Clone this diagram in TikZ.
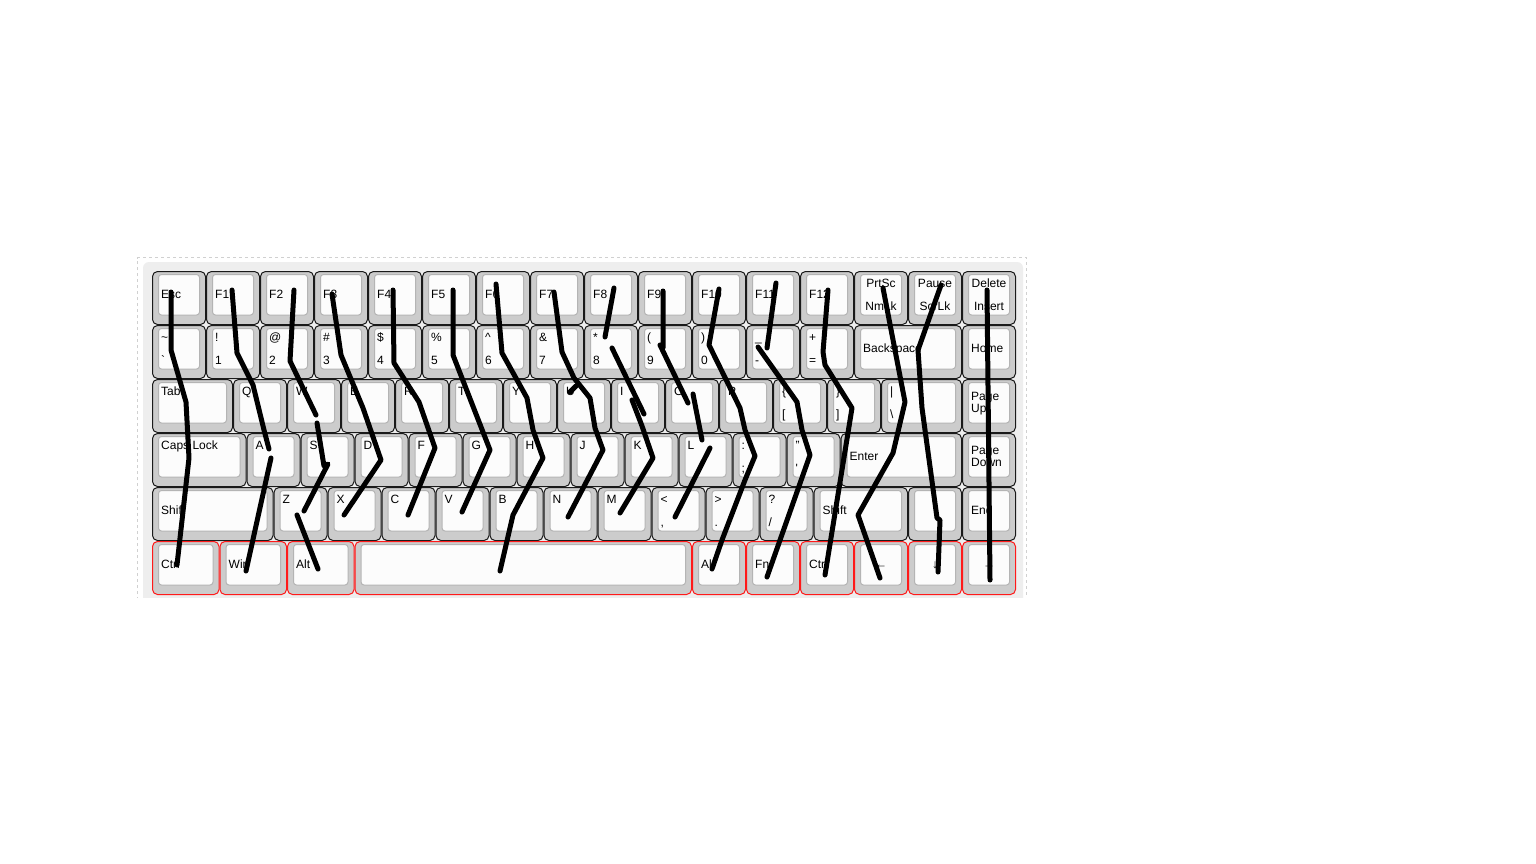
\documentclass[tikz,border=0pt]{standalone}
\usepackage{fontspec}
\setmainfont{Liberation Sans}
\definecolor{panelgray}{HTML}{EEEEEE}
\definecolor{dashgray}{HTML}{D0D0D0}
\definecolor{keygray}{HTML}{CCCCCC}
\definecolor{keywhite}{HTML}{FCFCFC}
\definecolor{inborder}{HTML}{B4B4B4}
\definecolor{keyborder}{HTML}{1A1A1A}
\definecolor{redborder}{HTML}{FF1A1A}
\newcounter{kl}
\newcommand\kbk[4][keyborder]{%
  \path[keyout,draw=#1] (#2+0.5,#3+0.5) rectangle (#2+#4-0.5,#3+53.5);
  \path[keyin] (#2+6.5,#3+3.5) rectangle (#2+#4-6.5,#3+44);}
\newcommand\ltop[3]{\stepcounter{kl}\node[lbl] (kl\arabic{kl}) at (#1+9,#2+16) {#3};}
\newcommand\lbot[3]{\stepcounter{kl}\node[lbl] (kl\arabic{kl}) at (#1+9,#2+39.5) {#3};}
\newcommand\lmid[3]{\stepcounter{kl}\node[lbl] (kl\arabic{kl}) at (#1+9,#2+27.5) {#3};}
\newcommand\ctop[3]{\stepcounter{kl}\node[lblc] (kl\arabic{kl}) at (#1,#2+16) {#3};}
\newcommand\cbot[3]{\stepcounter{kl}\node[lblc] (kl\arabic{kl}) at (#1,#2+39.5) {#3};}
\newcommand\cmid[3]{\stepcounter{kl}\node[lblc] (kl\arabic{kl}) at (#1,#2+27.5) {#3};}
\newcommand\ltwo[4]{\stepcounter{kl}\node[lbl] (kl\arabic{kl}) at (#1+9,#2+21.5) {#3};
  \stepcounter{kl}\node[lbl] (kl\arabic{kl}) at (#1+9,#2+33.5) {#4};}
\begin{document}
\begin{tikzpicture}[x=1pt,y=-1pt,
  keyout/.style={fill=keygray,line width=1pt,rounded corners=5pt},
  keyin/.style={fill=keywhite,draw=inborder,line width=1pt,rounded corners=3pt},
  lbl/.style={font=\fontsize{12}{12}\selectfont,inner sep=0pt,anchor=base west,text=black},
  lblc/.style={lbl,anchor=base},
  pen/.style={line width=5pt,line cap=round,line join=round,black}]
\useasboundingbox (0,0) rectangle (1536,864);
\fill[white] (0,0) rectangle (1536,864);
\begin{scope}
\clip (0,0) rectangle (1536,597);
\fill[panelgray,rounded corners=6pt] (143,262) rectangle (1023,620);
\draw[dashgray,line width=1pt,dash pattern=on 3pt off 3pt] (137.5,600) -- (137.5,257.5) -- (1026.5,257.5) -- (1026.5,600);
% row 1
\foreach \i in {0,...,15} {\kbk{152+54*\i}{271}{54}}
% row 2
\foreach \i in {0,...,12} {\kbk{152+54*\i}{325}{54}}
\kbk{854}{325}{108}\kbk{962}{325}{54}
% row 3
\kbk{152}{379}{81}
\foreach \i in {0,...,11} {\kbk{233+54*\i}{379}{54}}
\kbk{881}{379}{81}\kbk{962}{379}{54}
% row 4
\kbk{152}{433}{94.5}
\foreach \i in {0,...,10} {\kbk{246.5+54*\i}{433}{54}}
\kbk{840.5}{433}{121.5}\kbk{962}{433}{54}
% row 5
\kbk{152}{487}{121.5}
\foreach \i in {0,...,9} {\kbk{273.5+54*\i}{487}{54}}
\kbk{813.5}{487}{94.5}\kbk{908}{487}{54}\kbk{962}{487}{54}
% row 6
\kbk[redborder]{152}{541}{67.5}\kbk[redborder]{219.5}{541}{67.5}
\kbk[redborder]{287}{541}{67.5}\kbk[redborder]{354.5}{541}{337.5}
\foreach \i in {0,...,5} {\kbk[redborder]{692+54*\i}{541}{54}}
\end{scope}
% labels row 1
\foreach \t [count=\i from 0] in {Esc,F1,F2,F3,F4,F5,F6,F7,F8,F9,F10,F11,F12} {\lmid{152+54*\i}{271}{\t}}
\ctop{881}{271}{PrtSc}\cbot{881}{271}{NmLk}
\ctop{935}{271}{Pause}\cbot{935}{271}{ScrLk}
\ctop{989}{271}{Delete}\cbot{989}{271}{Insert}
% labels row 2
\ltop{152}{325}{\textasciitilde}\lbot{152}{325}{\textasciigrave}
\ltop{206}{325}{!}\lbot{206}{325}{1}
\ltop{260}{325}{@}\lbot{260}{325}{2}
\ltop{314}{325}{\#}\lbot{314}{325}{3}
\ltop{368}{325}{\$}\lbot{368}{325}{4}
\ltop{422}{325}{\%}\lbot{422}{325}{5}
\ltop{476}{325}{\textasciicircum}\lbot{476}{325}{6}
\ltop{530}{325}{\&}\lbot{530}{325}{7}
\ltop{584}{325}{*}\lbot{584}{325}{8}
\ltop{638}{325}{(}\lbot{638}{325}{9}
\ltop{692}{325}{)}\lbot{692}{325}{0}
\ltop{746}{325}{\_}\lbot{746}{325}{-}
\ltop{800}{325}{+}\lbot{800}{325}{=}
\lmid{854}{325}{Backspace}\lmid{962}{325}{Home}
% labels row 3
\ltop{152}{379}{Tab}
\foreach \t [count=\i from 0] in {Q,W,E,R,T,Y,U,I,O,P} {\ltop{233+54*\i}{379}{\t}}
\ltop{773}{379}{\{}\lbot{773}{379}{[}
\ltop{827}{379}{\}}\lbot{827}{379}{]}
\ltop{881}{379}{\textbar}\lbot{881}{379}{\textbackslash}
\ltwo{962}{379}{Page}{Up}
% labels row 4
\ltop{152}{433}{Caps Lock}
\foreach \t [count=\i from 0] in {A,S,D,F,G,H,J,K,L} {\ltop{246.5+54*\i}{433}{\t}}
\ltop{732.5}{433}{:}\lbot{732.5}{433}{;}
\ltop{786.5}{433}{"}\lbot{786.5}{433}{\textquotesingle}
\lmid{840.5}{433}{Enter}
\ltwo{962}{433}{Page}{Down}
% labels row 5
\lmid{152}{487}{Shift}
\foreach \t [count=\i from 0] in {Z,X,C,V,B,N,M} {\ltop{273.5+54*\i}{487}{\t}}
\ltop{651.5}{487}{<}\lbot{651.5}{487}{,}
\ltop{705.5}{487}{>}\lbot{705.5}{487}{.}
\ltop{759.5}{487}{?}\lbot{759.5}{487}{/}
\lmid{813.5}{487}{Shift}
\cmid{935}{487}{↑}
\lmid{962}{487}{End}
% labels row 6
\lmid{152}{541}{Ctrl}\lmid{219.5}{541}{Win}\lmid{287}{541}{Alt}
\lmid{692}{541}{Alt}\lmid{746}{541}{Fn}\lmid{800}{541}{Ctrl}
\cmid{881}{541}{←}\cmid{935}{541}{↓}\cmid{989}{541}{→}
% pen strokes
\draw[pen] (171,292) -- (171,350) -- (186,402) -- (189,458) -- (177,565);
\draw[pen] (232,290) -- (237,353) -- (253,385) -- (264,430) -- (269,449);
\draw[pen] (271,458) -- (246,571);
\draw[pen] (294,290) -- (290,361) -- (316,415);
\draw[pen] (317,423) -- (324,466) -- (328,464) -- (304,511);
\draw[pen] (297,515) -- (318,569);
\draw[pen] (332,294) -- (341,355) -- (363,408) -- (381,460) -- (344,515);
\draw[pen] (393,290) -- (394,363) -- (419,402) -- (435,448) -- (408,515);
\draw[pen] (453,290) -- (453,355) -- (490,450) -- (462,512);
\draw[pen] (496,284) -- (502,353) -- (527,398) -- (533,430) -- (543,458) -- (513,515) -- (500,571);
\draw[pen] (554,292) -- (562,352) -- (574,378) -- (590,398) -- (595,428) -- (603,450) -- (568,517);
\draw[pen] (570,392) -- (576,386);
\draw[pen] (614,288) -- (605,337);
\draw[pen] (612,348) -- (644,414);
\draw[pen] (632,400) -- (642,426) -- (653,458) -- (620,513);
\draw[pen] (663,291) -- (663,348) -- (660,345) -- (688,403);
\draw[pen] (693,394) -- (702,440);
\draw[pen] (710,448) -- (675,517);
\draw[pen] (719,289) -- (709,345) -- (740,408) -- (745,430) -- (755,456) -- (745,480) -- (722,540) -- (712,569);
\draw[pen] (776,283) -- (767,348);
\draw[pen] (758,347) -- (797,402) -- (802,430) -- (810,455) -- (767,577);
\draw[pen] (828,290) -- (823,352) -- (825,365) -- (852,408) -- (825,575);
\draw[pen] (883,288) -- (905,402) -- (893,453) -- (858,515) -- (880,578);
\draw[pen] (941,285) -- (918,350) -- (922,408) -- (937,518) -- (940,520) -- (938,572);
\draw[pen] (987,290) -- (990,580);
\end{tikzpicture}
\end{document}
